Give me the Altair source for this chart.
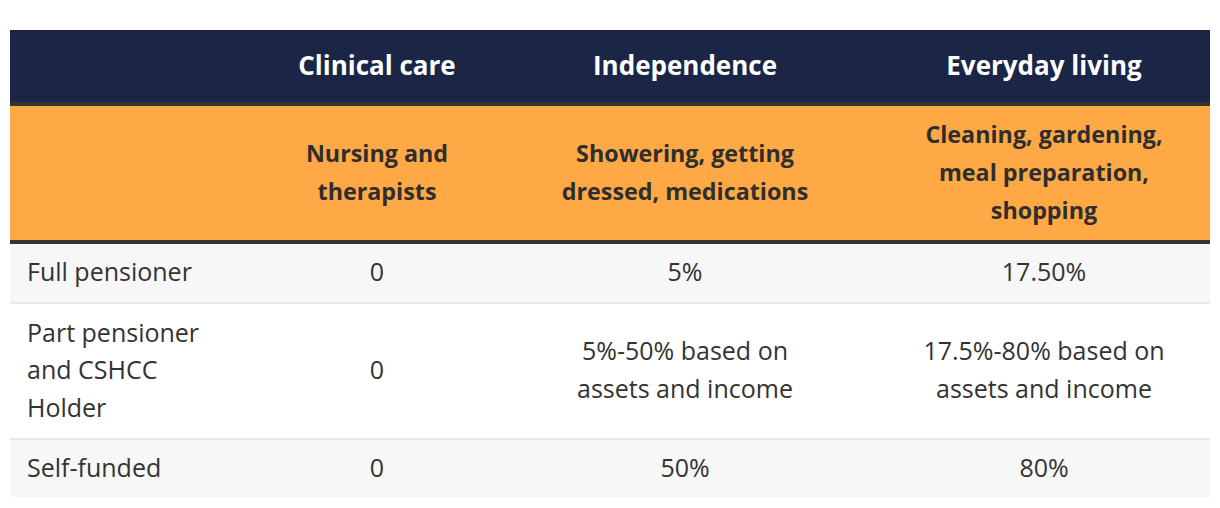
import altair as alt
import pandas as pd

# ---- table content ----
categories = ["Clinical care", "Independence", "Everyday living"]
descriptions = [
    "Nursing and\ntherapists",
    "Showering, getting\ndressed, medications",
    "Cleaning, gardening,\nmeal preparation,\nshopping",
]
groups = ["Full pensioner", "Part pensioner\nand CSHCC\nHolder", "Self-funded"]
clinical_care = ["0", "0", "0"]
independence = ["5%", "5%-50% based on\nassets and income", "50%"]
everyday_living = ["17.50%", "17.5%-80% based on\nassets and income", "80%"]

# ---- layout (page pixels) ----
table_left, table_right = 10, 1210
label_x = 27
col_centers = [377, 685, 1044]
header_band = (30, 102)
header_line = (102, 106)
sub_band = (106, 240)
sub_line = (240, 244)
row_bands = [(244, 302), (304, 438), (440, 497)]
row_seps = [(302, 304), (438, 440)]
row_fills = ["#f7f7f7", "#ffffff", "#f7f7f7"]
LH_SUB = 38
LH_BODY = 37.5

NAVY = "#1b2646"
ORANGE = "#fea945"
DARK = "#333333"
SEP = "#e8e8e8"
FONT = "Open Sans"

rects = []
rects.append(dict(y0=header_band[0], y1=header_band[1], fill=NAVY))
rects.append(dict(y0=header_line[0], y1=header_line[1], fill=DARK))
rects.append(dict(y0=sub_band[0], y1=sub_band[1], fill=ORANGE))
rects.append(dict(y0=sub_line[0], y1=sub_line[1], fill=DARK))
for (a, b), f in zip(row_bands, row_fills):
    rects.append(dict(y0=a, y1=b, fill=f))
for a, b in row_seps:
    rects.append(dict(y0=a, y1=b, fill=SEP))
rect_df = pd.DataFrame(rects)
rect_df["x0"] = table_left
rect_df["x1"] = table_right

xs = alt.Scale(domain=[8, 1212], nice=False, zero=False)
ys = alt.Scale(domain=[8, 500], nice=False, zero=False, reverse=True)

bg = alt.Chart(rect_df).mark_rect().encode(
    x=alt.X("x0:Q", scale=xs, axis=None),
    x2="x1:Q",
    y=alt.Y("y0:Q", scale=ys, axis=None),
    y2="y1:Q",
    color=alt.Color("fill:N", scale=None),
)


def anchor(band, text, lh, shift=0):
    # y of the first line so that the block is centred in the band
    n = text.count("\n") + 1
    return (band[0] + band[1]) / 2 - (n - 1) * lh / 2 + shift


head_df = pd.DataFrame({"t": categories, "x": col_centers,
                        "y": [anchor(header_band, t, 0, 1) for t in categories]})
sub_df = pd.DataFrame({"t": descriptions, "x": col_centers,
                       "y": [anchor(sub_band, t, LH_SUB, 1) for t in descriptions]})

body = []
for i, g in enumerate(groups):
    body.append(dict(t=g, x=label_x, y=anchor(row_bands[i], g, LH_BODY), align="left"))
    for c, col in enumerate([clinical_care, independence, everyday_living]):
        body.append(dict(t=col[i], x=col_centers[c],
                         y=anchor(row_bands[i], col[i], LH_BODY), align="center"))
body_df = pd.DataFrame(body)


def txt(df, **kw):
    return alt.Chart(df).mark_text(lineBreak="\n", baseline="middle", **kw).encode(
        x=alt.X("x:Q", scale=xs, axis=None),
        y=alt.Y("y:Q", scale=ys, axis=None),
        text="t:N",
    )


head = txt(head_df, font=FONT, fontSize=26, fontWeight="bold", color="#ffffff", align="center")
sub = txt(sub_df, font=FONT, fontSize=23.3, fontWeight="bold", color="#2e2e2e", align="center", lineHeight=LH_SUB)
body_left = txt(body_df[body_df["align"] == "left"], font=FONT, fontSize=25, color="#333333",
                align="left", lineHeight=LH_BODY)
body_center = txt(body_df[body_df["align"] == "center"], font=FONT, fontSize=25, color="#333333",
                  align="center", lineHeight=LH_BODY)

chart = alt.layer(bg, head, sub, body_left, body_center).properties(
    width=1204, height=492, padding=0, autosize="none"
).configure_view(stroke=None)

chart.save("out.html", embed_options={"renderer": "svg", "actions": False})
